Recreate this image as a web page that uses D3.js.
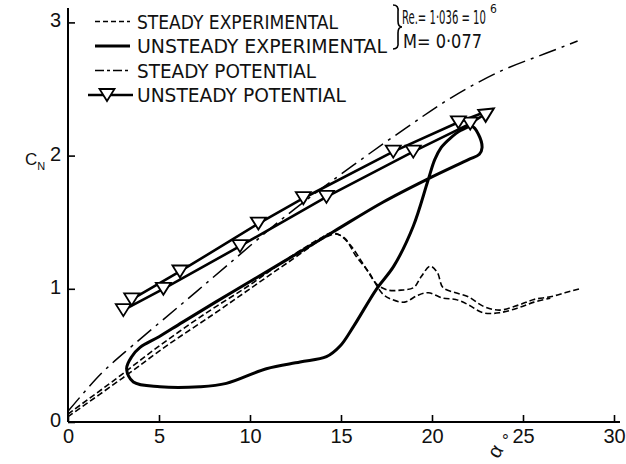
<!DOCTYPE html>
<html><head><meta charset="utf-8">
<script src="https://cdn.jsdelivr.net/npm/d3@7"></script>
<style>body{margin:0;background:#fff}svg{display:block}</style>
</head><body>
<svg id="chart" width="626" height="464"></svg>
<script>
// ---------- data ----------
const alphaTicks = [0, 5, 10, 15, 20, 25, 30];
const cnTicks = [0, 1, 2, 3];

// steady experimental (two close dashed traces)
const steadyExpA = [[0,0.06],[2.6,0.32],[5,0.57],[7.5,0.81],[10,1.03],[12,1.22],[14,1.39],[14.5,1.42],[15.2,1.38],[15.8,1.25],[16.5,1.13],[17,1.03],[17.6,0.99],[18.3,0.99],[19,1.01],[19.4,1.09],[19.9,1.17],[20.3,1.12],[20.6,1.01],[21.3,0.97],[22,0.94],[22.8,0.87],[23.7,0.84],[24.8,0.88],[25.6,0.92],[26.5,0.94],[27.3,0.97],[28.1,1.0]];
const steadyExpB = [[0,0.04],[3,0.33],[5.5,0.58],[8,0.81],[10,1.0],[12,1.19],[14.2,1.39],[14.8,1.41],[15.5,1.33],[16.2,1.19],[16.8,1.06],[17.3,0.96],[17.8,0.92],[18.5,0.90],[19.2,0.95],[19.8,0.97],[20.6,0.93],[21.3,0.92],[22,0.88],[22.8,0.82],[23.7,0.82],[24.8,0.86],[25.6,0.90],[26.5,0.93]];

// unsteady experimental hysteresis loop (closed)
const unsteadyExp = [[3.22,0.40],[3.5,0.49],[3.96,0.56],[5,0.64],[6.3,0.75],[9.08,0.98],[11.8,1.2],[14.6,1.43],[17.3,1.65],[19.7,1.82],[22.0,1.97],[22.6,2.01],[22.75,2.06],[22.55,2.16],[22.2,2.22],[21.6,2.19],[21.0,2.13],[20.5,2.06],[20.15,1.97],[19.75,1.80],[18.97,1.47],[17.9,1.17],[16.96,1.0],[15.7,0.72],[14.95,0.57],[14.2,0.49],[12.75,0.45],[10.9,0.40],[8.7,0.29],[7.25,0.265],[5.05,0.265],[3.59,0.30],[3.22,0.37]];

// steady potential
const steadyPot = [[0,0.08],[1.8,0.36],[3.6,0.58],[6.2,0.88],[8.7,1.17],[12,1.55],[15.7,1.93],[18.6,2.21],[21,2.43],[23.7,2.63],[26.3,2.77],[28,2.86]];

// unsteady potential: two branches with triangle markers, meeting at arrow tip
const unsteadyPotLower = [[3.04,0.84],[5.24,1.0],[9.45,1.32],[14.2,1.69],[18.97,2.03],[22.1,2.24],[23.35,2.35]];
const unsteadyPotUpper = [[3.5,0.92],[6.15,1.13],[10.46,1.49],[12.93,1.68],[17.87,2.03],[21.45,2.25],[23.35,2.35]];

const legendLabels = ["STEADY EXPERIMENTAL","UNSTEADY EXPERIMENTAL","STEADY POTENTIAL","UNSTEADY POTENTIAL"];
const legendWidths = [201, 250, 179, 209];

// ---------- drawing ----------
const svg = d3.select("#chart");
const x = d3.scaleLinear().domain([0,30]).range([68,614]);
const y = d3.scaleLinear().domain([0,3]).range([422,22.4]);
const narrow = "'Liberation Sans Narrow','DejaVu Sans Condensed','Arial Narrow',sans-serif";
const sans = "'Liberation Sans',Arial,sans-serif";

// axes
const gx = svg.append("g").attr("transform","translate(0,422)")
  .call(d3.axisBottom(x).tickValues(alphaTicks).tickSize(-7).tickPadding(7).tickFormat(d3.format("d")));
const gy = svg.append("g").attr("transform","translate(68,0)")
  .call(d3.axisLeft(y).tickValues(cnTicks).tickSize(-7).tickPadding(7).tickFormat(d3.format("d")));
[gx,gy].forEach(g=>{
  g.select(".domain").remove();
  g.selectAll(".tick line").attr("stroke","#000").attr("stroke-width",1.6);
  g.selectAll(".tick text").attr("fill","#111").style("font-family",sans).style("font-size","20px");
});
gy.selectAll(".tick text").attr("dy","0.22em");
svg.append("line").attr("x1",x(0)).attr("x2",620).attr("y1",y(0)).attr("y2",y(0)).attr("stroke","#000").attr("stroke-width",2);
svg.append("line").attr("x1",x(0)).attr("x2",x(0)).attr("y1",y(0)).attr("y2",8).attr("stroke","#000").attr("stroke-width",2);

// axis titles
const cn = svg.append("text").attr("x",25).attr("y",165).style("font-family",sans).style("font-size","17px").attr("fill","#111").text("C");
cn.append("tspan").attr("dy",5).style("font-size","11px").text("N");
svg.append("text").attr("transform","translate(495,451) rotate(-60)").attr("text-anchor","middle").attr("dy","0.35em")
  .style("font-family",sans).style("font-size","20px").attr("fill","#111").text("α");
svg.append("text").attr("x",502).attr("y",446).style("font-family",sans).style("font-size","17px").attr("fill","#111").text("°");

const line = d3.line().x(d=>x(d[0])).y(d=>y(d[1]));
const smooth = d3.line().x(d=>x(d[0])).y(d=>y(d[1])).curve(d3.curveCatmullRom.alpha(0.5));
const loop = d3.line().x(d=>x(d[0])).y(d=>y(d[1])).curve(d3.curveCatmullRomClosed.alpha(0.5));

// steady potential (dash-dot)
svg.append("path").attr("d",smooth(steadyPot)).attr("fill","none").attr("stroke","#000")
  .attr("stroke-width",1.5).attr("stroke-dasharray","18,6,3,6");

// steady experimental (dashed)
[steadyExpA,steadyExpB].forEach(s=>{
  svg.append("path").attr("d",smooth(s)).attr("fill","none").attr("stroke","#000")
    .attr("stroke-width",1.6).attr("stroke-dasharray","6,3");
});

// unsteady experimental loop
svg.append("path").attr("d",loop(unsteadyExp.slice(0,-1))).attr("fill","none").attr("stroke","#000")
  .attr("stroke-width",3).attr("stroke-linejoin","round");

// unsteady potential
[unsteadyPotLower,unsteadyPotUpper].forEach(s=>{
  svg.append("path").attr("d",line(s)).attr("fill","none").attr("stroke","#000").attr("stroke-width",2.6);
});
const tri = "M-7.5,-6L7.5,-6L0,6Z";
const markers = unsteadyPotLower.slice(0,-1).concat(unsteadyPotUpper.slice(0,-1));
svg.selectAll("path.mk").data(markers).enter().append("path").attr("class","mk")
  .attr("d",tri).attr("transform",d=>`translate(${x(d[0])},${y(d[1])})`)
  .attr("fill","#fff").attr("stroke","#000").attr("stroke-width",1.8);
// arrow head at the end
const tip = unsteadyPotUpper[unsteadyPotUpper.length-1];
svg.append("path").attr("d","M-13,-7L1,0L-13,7Z")
  .attr("transform",`translate(${x(tip[0])},${y(tip[1])}) rotate(-32)`)
  .attr("fill","#fff").attr("stroke","#000").attr("stroke-width",2);

// legend
const rowsY = [21.5,46,70.5,95];
const lx0 = 95, lx1 = 130;
const leg = svg.append("g");
leg.append("line").attr("x1",lx0).attr("x2",lx1).attr("y1",rowsY[0]).attr("y2",rowsY[0]).attr("stroke","#000").attr("stroke-width",1.6).attr("stroke-dasharray","5,3");
leg.append("line").attr("x1",lx0).attr("x2",lx1).attr("y1",rowsY[1]).attr("y2",rowsY[1]).attr("stroke","#000").attr("stroke-width",2.8);
leg.append("line").attr("x1",lx0).attr("x2",lx1).attr("y1",rowsY[2]).attr("y2",rowsY[2]).attr("stroke","#000").attr("stroke-width",1.6).attr("stroke-dasharray","9,3,3,3");
leg.append("line").attr("x1",88).attr("x2",133).attr("y1",rowsY[3]).attr("y2",rowsY[3]).attr("stroke","#000").attr("stroke-width",2.6);
leg.append("path").attr("d",tri).attr("transform",`translate(107,${rowsY[3]})`).attr("fill","#fff").attr("stroke","#000").attr("stroke-width",1.8);
legendLabels.forEach((t,i)=>{
  leg.append("text").attr("x",137).attr("y",rowsY[i]+7).attr("textLength",legendWidths[i]).attr("lengthAdjust","spacingAndGlyphs")
    .style("font-family",narrow).style("font-size","20px").attr("fill","#111").text(t);
});
// bracket and flow conditions
svg.append("path").attr("d","M393,5 Q399,5 398,12 L398,21 Q398,27 402,27 Q398,27 398,33 L398,42 Q399,49 393,49")
  .attr("fill","none").attr("stroke","#000").attr("stroke-width",1.6);
const reG = svg.append("g");
const reT = reG.append("text").attr("x",0).attr("y",0)
  .style("font-family",narrow).style("font-size","19px").attr("fill","#111").text("Re.= 1·036 = 10");
const reLen = reT.node().getComputedTextLength();
reG.attr("transform",`translate(402,24) scale(${84/reLen},1)`);
svg.append("text").attr("x",490).attr("y",13).style("font-family",narrow).style("font-size","12px").attr("fill","#111").text("6");
svg.append("text").attr("x",403).attr("y",48).attr("textLength",79).attr("lengthAdjust","spacingAndGlyphs")
  .style("font-family",narrow).style("font-size","20px").attr("fill","#111").text("M= 0·077");
</script>
</body></html>
